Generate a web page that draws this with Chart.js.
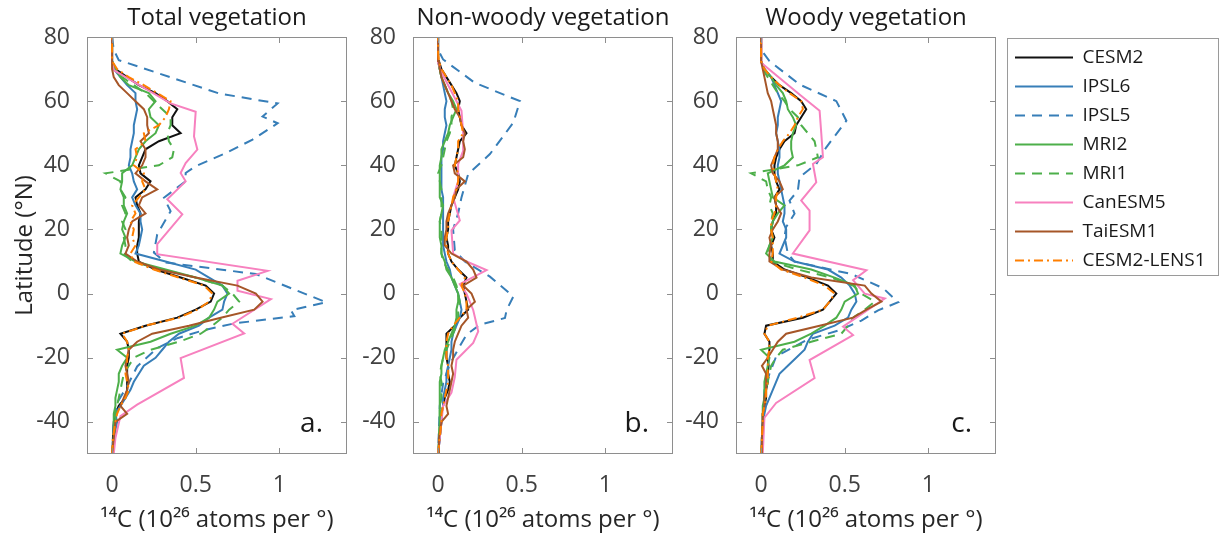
<!DOCTYPE html>
<html>
<head>
<meta charset="utf-8">
<script src="https://cdn.jsdelivr.net/npm/chart.js@4.4.1/dist/chart.umd.min.js"></script>
<style>
body{margin:0;background:#fff;width:1219px;height:540px;overflow:hidden;position:relative;}
canvas{position:absolute;top:0;}
</style>
</head>
<body>
<canvas id="panelA" width="360" height="540" style="left:0px"></canvas>
<canvas id="panelB" width="330" height="540" style="left:360px"></canvas>
<canvas id="panelC" width="329" height="540" style="left:676px"></canvas>
<canvas id="legendBox" width="214" height="270" style="left:1005px;top:38px"></canvas>
<script>
// latitude grid shared by the fine-resolution models
const lat = [-50,-45,-40,-37.5,-35,-32.5,-30,-27.5,-25,-22.5,-20,-17.5,-15,-12.5,-10,-7.5,-5,-2.5,0,2.5,5,7.5,10,12.5,15,17.5,20,22.5,25,27.5,30,32.5,35,37.5,40,42.5,45,47.5,50,52.5,55,57.5,60,62.5,65,67.5,70,72.5,75,80];

const seriesNames = ["CESM2","IPSL6","IPSL5","MRI2","MRI1","CanESM5","TaiESM1","CESM2-LENS1"];
const panelTitles = ["Total vegetation","Non-woody vegetation","Woody vegetation"];
const panelTags = ["a.","b.","c."];
const xTicks = [0, 0.5, 1];
const yTicks = [-40, -20, 0, 20, 40, 60, 80];

// CESM2
const cesm2Total = [0,0.005,0.01,0.02,0.04,0.08,0.09,0.09,0.09,0.09,0.10,0.10,0.09,0.05,0.20,0.39,0.50,0.59,0.61,0.56,0.41,0.26,0.16,0.15,0.15,0.16,0.16,0.16,0.17,0.15,0.14,0.20,0.23,0.17,0.16,0.18,0.20,0.28,0.41,0.36,0.36,0.39,0.33,0.26,0.16,0.09,0.02,0,0,0];
const cesm2NonWoody = [0,0.01,0.02,0.02,0.03,0.04,0.06,0.07,0.06,0.06,0.05,0.05,0.05,0.05,0.10,0.13,0.18,0.17,0.16,0.15,0.17,0.12,0.08,0.06,0.06,0.05,0.06,0.06,0.07,0.08,0.10,0.12,0.13,0.12,0.10,0.11,0.12,0.13,0.17,0.14,0.13,0.12,0.13,0.11,0.08,0.05,0.02,0.005,0,0];
const cesm2Woody = [0,0.005,0.01,0.01,0.02,0.03,0.03,0.04,0.04,0.045,0.04,0.05,0.05,0.02,0.03,0.25,0.37,0.41,0.45,0.40,0.28,0.14,0.07,0.07,0.06,0.08,0.06,0.07,0.09,0.09,0.08,0.11,0.09,0.08,0.08,0.09,0.11,0.14,0.20,0.21,0.24,0.27,0.24,0.18,0.11,0.06,0.02,0,0,0];

// IPSL6
const ipsl6Total = [0,0.01,0.03,0.02,0.05,0.08,0.11,0.13,0.16,0.19,0.26,0.30,0.34,0.40,0.52,0.58,0.66,0.67,0.69,0.66,0.58,0.50,0.32,0.14,0.16,0.17,0.18,0.17,0.17,0.14,0.12,0.15,0.13,0.12,0.10,0.11,0.11,0.12,0.13,0.13,0.14,0.15,0.14,0.14,0.09,0.05,0.01,0,0,0];
const ipsl6NonWoody = [0,0.01,0.02,0.02,0.03,0.03,0.04,0.05,0.05,0.06,0.07,0.08,0.08,0.09,0.11,0.13,0.14,0.13,0.12,0.10,0.08,0.07,0.05,0.04,0.03,0.03,0.03,0.03,0.03,0.03,0.03,0.02,0.02,0.02,0.02,0.02,0.03,0.03,0.04,0.05,0.04,0.04,0.05,0.04,0.03,0.02,0.01,0,0,0];
const ipsl6Woody = [0,0.005,0.01,0.02,0.03,0.05,0.07,0.09,0.11,0.16,0.21,0.26,0.28,0.31,0.44,0.52,0.54,0.57,0.56,0.53,0.48,0.40,0.20,0.11,0.13,0.15,0.15,0.13,0.14,0.14,0.13,0.12,0.11,0.10,0.10,0.11,0.11,0.10,0.09,0.10,0.10,0.11,0.12,0.10,0.08,0.06,0.02,0,0,0];

// IPSL5 (coarse grid)
const ipsl5TotalLat = [80,76,72.8,67.6,62.4,59.3,55.2,53.1,48,43.8,39.7,37.6,35,29.9,25.7,18.5,12.8,9.7,6.1,-2.7,-5.2,-7,-9.3,-11.4,-13.9,-17,-22.7,-28.9,-34,-40,-50];
const ipsl5Total = [0,0.01,0.04,0.34,0.64,0.99,0.90,0.99,0.84,0.68,0.50,0.44,0.44,0.31,0.35,0.27,0.25,0.32,0.86,1.28,1.07,1.09,0.73,0.55,0.39,0.27,0.15,0.09,0.03,0.01,0];
const ipsl5NonWoodyLat = [80,76,73,65.7,60,53.3,43.5,37.3,30,25,20,13.5,10,5.3,-0.9,-5.1,-7.6,-9.7,-12.8,-16.4,-22,-28,-35,-50];
const ipsl5NonWoody = [0,0,0.03,0.22,0.49,0.45,0.31,0.18,0.14,0.12,0.09,0.10,0.16,0.31,0.45,0.41,0.40,0.25,0.17,0.13,0.07,0.03,0.01,0];
const ipsl5WoodyLat = [80,76,72.5,65.2,60,53.9,45.6,40.4,36.3,32.1,29,24.9,20.8,17.7,12.5,10,6.1,1.7,-2.7,-5.2,-8.4,-11.4,-14.5,-19.6,-25,-30,-40,-50];
const ipsl5Woody = [0,0,0.05,0.23,0.45,0.51,0.39,0.33,0.23,0.22,0.17,0.20,0.15,0.14,0.16,0.20,0.54,0.73,0.82,0.70,0.60,0.47,0.27,0.09,0.05,0.02,0.01,0];

// MRI2
const mri2Total = [0,0.01,0.01,0.01,0.02,0.02,0.03,0.04,0.04,0.06,0.09,0.03,0.23,0.35,0.50,0.58,0.61,0.63,0.70,0.66,0.50,0.32,0.14,0.05,0.06,0.08,0.06,0.07,0.09,0.07,0.07,0.05,0.06,0.06,0.12,0.14,0.16,0.20,0.26,0.28,0.23,0.22,0.26,0.22,0.10,0.05,0.02,0,0,0];
const mri2NonWoody = [0,0.005,0.01,0.01,0.01,0.01,0.01,0.01,0.02,0.02,0.03,0.04,0.06,0.08,0.10,0.11,0.11,0.12,0.12,0.10,0.08,0.05,0.04,0.02,0.02,0.01,0.01,0.01,0.02,0.03,0.01,0.01,0.01,0.01,0.01,0.02,0.02,0.04,0.06,0.07,0.09,0.11,0.09,0.06,0.04,0.02,0.01,0,0,0];
const mri2Woody = [0,0.005,0.01,0.01,0.01,0.02,0.02,0.02,0.03,0.04,0.05,0.0,0.20,0.30,0.38,0.45,0.48,0.50,0.58,0.56,0.44,0.30,0.08,0.03,0.05,0.07,0.06,0.07,0.10,0.14,0.07,0.06,0.05,0.04,0.14,0.19,0.18,0.18,0.19,0.21,0.19,0.16,0.15,0.13,0.09,0.06,0.02,0,0,0];

// MRI1
const mri1Total = [0,0.01,0.02,0.02,0.03,0.04,0.05,0.06,0.07,0.10,0.13,0.23,0.40,0.53,0.60,0.66,0.70,0.76,0.72,0.66,0.50,0.30,0.12,0.07,0.08,0.07,0.08,0.06,0.08,0.06,0.08,0.05,0.05,-0.04,0.28,0.36,0.37,0.34,0.33,0.35,0.35,0.30,0.25,0.20,0.13,0.06,0.02,0,0,0];
const mri1NonWoody = [0,0.005,0.01,0.01,0.01,0.02,0.02,0.02,0.01,0.02,0.03,0.05,0.07,0.09,0.11,0.12,0.12,0.13,0.12,0.11,0.09,0.06,0.03,0.02,0.02,0.02,0.02,0.01,0.02,0.02,0.02,0.02,0.01,0.0,0.02,0.03,0.04,0.05,0.07,0.08,0.08,0.09,0.08,0.06,0.04,0.02,0.01,0,0,0];
const mri1Woody = [0,0.01,0.01,0.01,0.02,0.02,0.03,0.04,0.05,0.06,0.09,0.13,0.30,0.48,0.52,0.55,0.62,0.68,0.60,0.55,0.42,0.22,0.06,0.04,0.05,0.07,0.06,0.06,0.07,0.05,0.06,0.04,0.03,-0.06,0.22,0.34,0.33,0.32,0.28,0.24,0.22,0.17,0.14,0.10,0.07,0.04,0.01,0,0,0];

// CanESM5 (coarse grid)
const canTotalLat = [80,72,69.7,59.3,56.7,49,44.9,40.7,37.6,35,29.4,24.7,15.4,12.3,7.1,4,0.9,-1.7,-9.4,-12.4,-20.1,-26.3,-34.6,-38.2,-45,-50];
const canTotal = [0,0,0.01,0.35,0.50,0.49,0.51,0.44,0.41,0.44,0.33,0.42,0.27,0.27,0.93,0.75,0.75,0.95,0.72,0.79,0.41,0.43,0.15,0.05,0.02,0.01];
const canNonWoodyLat = [80,72,69,63,57,50,44.5,40.4,35,30,22.8,19.7,12.5,10,7.3,3,0,-5.1,-11.8,-15.4,-20.6,-26,-30.9,-35,-40,-50];
const canNonWoody = [0,0,0.02,0.08,0.14,0.15,0.15,0.12,0.12,0.09,0.13,0.08,0.09,0.17,0.29,0.13,0.17,0.21,0.24,0.21,0.11,0.10,0.08,0.03,0.02,0];
const canWoodyLat = [80,72,71.9,62.1,57,50,42.5,40.4,34.7,29,25.9,19.7,12.5,7.3,4.2,0,-1.5,-10.3,-12.9,-20.7,-26.3,-34.1,-38.7,-50];
const canWoody = [0,0,0.005,0.23,0.35,0.36,0.37,0.31,0.33,0.24,0.29,0.29,0.19,0.63,0.55,0.62,0.74,0.49,0.55,0.29,0.32,0.09,0.02,0.01];

// TaiESM1
const taiTotal = [0,0.01,0.02,0.09,0.05,0.07,0.09,0.10,0.09,0.08,0.09,0.10,0.15,0.24,0.46,0.65,0.85,0.90,0.86,0.75,0.50,0.28,0.15,0.08,0.10,0.09,0.10,0.12,0.20,0.16,0.18,0.27,0.20,0.14,0.18,0.20,0.20,0.17,0.22,0.21,0.21,0.19,0.14,0.09,0.04,0.01,0,0,0,0];
const taiNonWoody = [0,0.005,0.02,0.06,0.05,0.06,0.07,0.08,0.09,0.08,0.09,0.09,0.10,0.12,0.14,0.18,0.17,0.22,0.20,0.15,0.23,0.21,0.17,0.08,0.04,0.04,0.05,0.05,0.06,0.08,0.10,0.11,0.16,0.10,0.09,0.15,0.16,0.15,0.16,0.14,0.13,0.10,0.08,0.06,0.04,0.02,0.01,0.005,0,0];
const taiWoody = [0,0.005,0.01,0.01,0.02,0.02,0.03,0.03,0.03,0.005,0.04,0.07,0.10,0.15,0.35,0.55,0.63,0.72,0.66,0.62,0.30,0.13,0.05,0.05,0.06,0.05,0.07,0.10,0.12,0.09,0.08,0.13,0.11,0.07,0.06,0.08,0.10,0.10,0.09,0.09,0.08,0.07,0.06,0.04,0.03,0.02,0.01,0,0,0];

// CESM2-LENS1
const lens1Total = [0,0.005,0.02,0.03,0.05,0.08,0.10,0.09,0.08,0.09,0.09,0.10,0.09,0.06,0.20,0.40,0.51,0.58,0.60,0.55,0.40,0.25,0.13,0.11,0.14,0.12,0.13,0.11,0.14,0.12,0.16,0.20,0.18,0.19,0.13,0.15,0.14,0.20,0.19,0.28,0.32,0.34,0.35,0.27,0.19,0.10,0.03,0,0,0];
const lens1NonWoody = [0,0.01,0.02,0.02,0.03,0.04,0.05,0.06,0.06,0.06,0.05,0.05,0.05,0.06,0.09,0.13,0.17,0.17,0.16,0.14,0.16,0.12,0.08,0.06,0.05,0.05,0.06,0.06,0.07,0.08,0.09,0.11,0.12,0.12,0.10,0.11,0.12,0.12,0.15,0.14,0.13,0.12,0.12,0.10,0.08,0.05,0.02,0.005,0,0];
const lens1Woody = [0,0.005,0.01,0.01,0.02,0.03,0.03,0.04,0.04,0.04,0.04,0.05,0.05,0.02,0.04,0.22,0.37,0.41,0.44,0.38,0.26,0.12,0.06,0.07,0.07,0.07,0.06,0.06,0.08,0.09,0.09,0.10,0.09,0.08,0.07,0.08,0.10,0.13,0.17,0.20,0.22,0.25,0.24,0.17,0.11,0.06,0.02,0,0,0];

const seriesColors = ["#111111","#377eb8","#377eb8","#4daf4a","#4daf4a","#f781bf","#a65628","#ff7f00"];
const seriesDash = [[],[],[10,7],[],[10,7],[],[],[9,4,2,4]];

Chart.defaults.font.family = "'Open Sans', 'Noto Sans', sans-serif";
Chart.defaults.color = "#404040";

function pts(lats, vals){
  return lats.map((y, i) => ({x: vals[i], y: y}));
}

// box around the axes, inward ticks on all four sides, panel letter
const framePlugin = {
  id: "frame",
  afterDatasetsDraw(chart, args, opts){
    const ctx = chart.ctx;
    const a = chart.chartArea;
    const xs = chart.scales.x;
    const ys = chart.scales.y;
    ctx.save();
    ctx.strokeStyle = "#8e8e8e";
    ctx.lineWidth = 1;
    ctx.setLineDash([]);
    ctx.strokeRect(a.left + 0.5, a.top + 0.5, a.right - a.left - 1, a.bottom - a.top - 1);
    ctx.beginPath();
    xs.ticks.forEach(t => {
      const px = Math.round(xs.getPixelForValue(t.value)) + 0.5;
      ctx.moveTo(px, a.bottom); ctx.lineTo(px, a.bottom - 6);
      ctx.moveTo(px, a.top); ctx.lineTo(px, a.top + 6);
    });
    ys.ticks.forEach(t => {
      const py = Math.round(ys.getPixelForValue(t.value)) + 0.5;
      ctx.moveTo(a.left, py); ctx.lineTo(a.left + 6, py);
      ctx.moveTo(a.right, py); ctx.lineTo(a.right - 6, py);
    });
    ctx.stroke();
    ctx.fillStyle = "#1a1a1a";
    ctx.font = "28px 'Open Sans', 'Noto Sans', sans-serif";
    ctx.textAlign = "right";
    ctx.textBaseline = "alphabetic";
    ctx.fillText(opts.tag, a.right - 24, a.bottom - 22);
    ctx.restore();
  }
};

function makePanel(id, k, series, yWidth, rightPad, showYTitle){
  return new Chart(document.getElementById(id), {
    type: "scatter",
    data: {
      datasets: series.map((s, i) => ({
        label: seriesNames[i],
        data: pts(s[0], s[1]),
        showLine: true,
        borderColor: seriesColors[i],
        borderDash: seriesDash[i],
        borderWidth: 2,
        pointRadius: 0,
        pointHoverRadius: 0,
        order: series.length - i
      }))
    },
    options: {
      responsive: false,
      animation: false,
      events: [],
      layout: {padding: {left: 0, right: rightPad, top: 0, bottom: 0}},
      scales: {
        x: {
          type: "linear", min: -0.15, max: 1.405,
          afterBuildTicks: s => { s.ticks = xTicks.map(v => ({value: v})); },
          afterFit: s => { s.height = 86; },
          grid: {display: false},
          border: {display: false},
          ticks: {padding: 10, font: {size: 23}, color: "#404040", callback: v => String(v)},
          title: {display: true, text: "¹⁴C (10²⁶ atoms per °)", font: {size: 24}, color: "#262626", padding: {top: 0, bottom: 5}}
        },
        y: {
          type: "linear", min: -50, max: 80,
          afterBuildTicks: s => { s.ticks = yTicks.map(v => ({value: v})); },
          afterFit: s => { s.width = yWidth; },
          grid: {display: false},
          border: {display: false},
          ticks: {padding: 9, font: {size: 23}, color: "#404040", callback: v => String(v)},
          title: {display: showYTitle, text: "Latitude (°N)", font: {size: 24}, color: "#262626", padding: {top: 11, bottom: 0}}
        }
      },
      plugins: {
        legend: {display: false},
        tooltip: {enabled: false},
        title: {display: true, text: panelTitles[k], fullSize: false, color: "#1a1a1a", font: {size: 24, weight: "normal"}, padding: {top: 4, bottom: 4.2}},
        frame: {tag: panelTags[k]}
      }
    },
    plugins: [framePlugin]
  });
}

makePanel("panelA", 0, [
  [lat, cesm2Total], [lat, ipsl6Total], [ipsl5TotalLat, ipsl5Total], [lat, mri2Total],
  [lat, mri1Total], [canTotalLat, canTotal], [lat, taiTotal], [lat, lens1Total]
], 87, 13, true);

makePanel("panelB", 1, [
  [lat, cesm2NonWoody], [lat, ipsl6NonWoody], [ipsl5NonWoodyLat, ipsl5NonWoody], [lat, mri2NonWoody],
  [lat, mri1NonWoody], [canNonWoodyLat, canNonWoody], [lat, taiNonWoody], [lat, lens1NonWoody]
], 53, 17, false);

makePanel("panelC", 2, [
  [lat, cesm2Woody], [lat, ipsl6Woody], [ipsl5WoodyLat, ipsl5Woody], [lat, mri2Woody],
  [lat, mri1Woody], [canWoodyLat, canWoody], [lat, taiWoody], [lat, lens1Woody]
], 60, 9, false);

// legend drawn by a chart of its own, in a grey box
const boxPlugin = {
  id: "legendFrame",
  afterDraw(chart){
    const ctx = chart.ctx;
    ctx.save();
    ctx.strokeStyle = "#9a9a9a";
    ctx.lineWidth = 1;
    ctx.setLineDash([]);
    ctx.strokeRect(2.5, 0.5, chart.width - 3, 237);
    ctx.restore();
  }
};

new Chart(document.getElementById("legendBox"), {
  type: "scatter",
  data: {
    datasets: seriesNames.map((n, i) => ({
      label: n,
      data: [],
      showLine: true,
      borderColor: seriesColors[i],
      borderDash: seriesDash[i],
      borderWidth: 2,
      pointRadius: 0
    }))
  },
  options: {
    responsive: false,
    animation: false,
    events: [],
    layout: {padding: 0},
    scales: {x: {display: false}, y: {display: false}},
    plugins: {
      tooltip: {enabled: false},
      legend: {
        position: "chartArea",
        align: "start",
        labels: {
          usePointStyle: true, pointStyle: "line", pointStyleWidth: 58, padding: 10,
          color: "#1a1a1a", font: {size: 19},
          generateLabels: chart => chart.data.datasets.map((d, i) => ({
            text: d.label,
            datasetIndex: i,
            hidden: false,
            fillStyle: d.borderColor,
            strokeStyle: d.borderColor,
            lineWidth: 2,
            lineDash: d.borderDash,
            pointStyle: "line",
            fontColor: "#1a1a1a"
          }))
        }
      }
    }
  },
  plugins: [boxPlugin]
});
</script>
</body>
</html>
